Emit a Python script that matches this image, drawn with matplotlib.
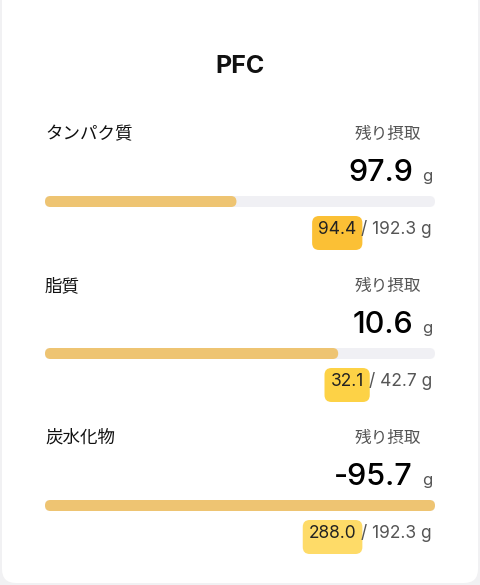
import matplotlib
matplotlib.use("Agg")
import matplotlib.pyplot as plt
from matplotlib.patches import FancyBboxPatch

# values read from the card
nutrients = ["タンパク質", "脂質", "炭水化物"]
intake    = [94.4, 32.1, 288.0]
target    = [192.3, 42.7, 192.3]
remaining = [97.9, 10.6, -95.7]

# hand-drawn highlighter colours over the intake numbers
marker_colors = ["#fbbd2a", "#fdd03c", "#fed960"]

JP  = ["Noto Sans CJK JP", "DejaVu Sans"]
NUM = ["Inter", "DejaVu Sans"]

fig = plt.figure(figsize=(4.8, 5.85), dpi=100)
fig.patch.set_facecolor("#f1f1f3")
ax = fig.add_axes([0, 0, 1, 1])
ax.set_xlim(0, 480)
ax.set_ylim(585, 0)
ax.axis("off")

# white card
ax.add_patch(FancyBboxPatch((2, -20), 476, 603,
                            boxstyle="round,pad=0,rounding_size=14",
                            fc="white", ec="none", zorder=0))

ax.text(240, 73, "PFC", ha="center", va="baseline", fontsize=18,
        fontweight="bold", family=NUM, color="#111111")

bar_x, bar_w, bar_h = 45, 390, 11
step = 152

for i, name in enumerate(nutrients):
    y0 = i * step

    # header row
    ax.text(45, 139 + y0, name, ha="left", va="baseline", fontsize=12.6,
            family=JP, color="#111111")
    ax.text(421, 139 + y0, "残り摂取", ha="right", va="baseline",
            fontsize=12, family=JP, color="#555555")

    # remaining amount
    ax.text(413, 181 + y0, f"{remaining[i]:.1f}", ha="right", va="baseline",
            fontsize=22, fontweight="medium", family=NUM, color="#000000")
    ax.text(422, 181 + y0, "g", ha="left", va="baseline", fontsize=12,
            family=NUM, color="#555555")

    # progress bar
    ax.add_patch(FancyBboxPatch((bar_x, 196 + y0), bar_w, bar_h,
                                boxstyle="round,pad=0,rounding_size=5.5",
                                fc="#f0f0f4", ec="none", zorder=1))
    frac = min(intake[i] / target[i], 1.0)
    ax.add_patch(FancyBboxPatch((bar_x, 196 + y0), bar_w * frac, bar_h,
                                boxstyle="round,pad=0,rounding_size=5.5",
                                fc="#eec472", ec="none", zorder=2))

    # intake / target line
    rest = ax.text(432, 234 + y0, f"/ {target[i]:.1f} g", ha="right",
                   va="baseline", fontsize=12.5, family=NUM, color="#555555",
                   zorder=4)
    fig.canvas.draw()
    inv = ax.transData.inverted()
    bb = rest.get_window_extent()
    left = inv.transform((bb.x0, bb.y0))[0]
    val = ax.text(left - 5, 234 + y0, f"{intake[i]:.1f}", ha="right",
                  va="baseline", fontsize=12.5, family=NUM, color="#222222",
                  zorder=4)
    fig.canvas.draw()
    vb = val.get_window_extent()
    (vx0, vy0), (vx1, vy1) = inv.transform([(vb.x0, vb.y0), (vb.x1, vb.y1)])
    top, bottom = min(vy0, vy1), max(vy0, vy1)
    ax.add_patch(FancyBboxPatch((vx0 - 6, top - 5), (vx1 - vx0) + 12,
                                (bottom - top) + 17,
                                boxstyle="round,pad=0,rounding_size=7",
                                fc=marker_colors[i], ec="none", alpha=0.95,
                                zorder=3))

fig.savefig("out.png", dpi=100, facecolor=fig.get_facecolor())
